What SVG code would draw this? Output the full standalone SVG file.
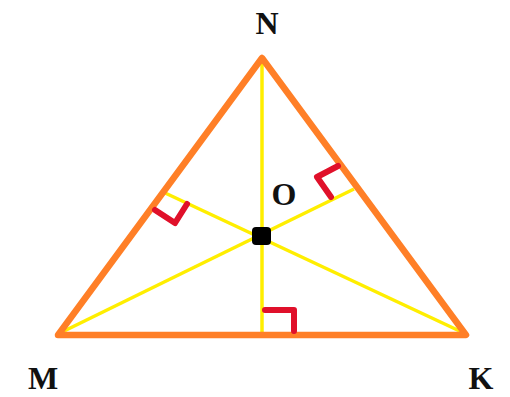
<svg xmlns="http://www.w3.org/2000/svg" width="510" height="397" viewBox="0 0 510 397">
<style>
.tri{fill:none;stroke:#ff7f27;stroke-width:6.5;stroke-linejoin:round}
.yl{stroke:#ffee00;stroke-width:3.5;fill:none}
.ra{fill:none;stroke:#e0102a;stroke-width:6;stroke-linecap:round;stroke-linejoin:round}
.lbl{font-family:"Liberation Serif",serif;font-weight:bold;font-size:32px;fill:#111;text-anchor:middle}
</style>
<rect width="510" height="397" fill="#fff"/>
<g id="connectors">
<line class="yl" x1="262" y1="58" x2="262" y2="335"/>
<line class="yl" x1="58" y1="334" x2="354" y2="189"/>
<line class="yl" x1="466" y1="334" x2="163" y2="192"/>
</g>
<g id="triangle">
<polygon class="tri" points="58,335 262,58 466,335"/>
</g>
<g id="marks">
<polyline class="ra" points="155,210 175,223 187,204"/>
<polyline class="ra" points="338,166 317,177 331,197"/>
<polyline class="ra" points="265,310 294,310 294,331"/>
</g>
<g id="O">
<rect x="252" y="227" width="19" height="18" rx="4" fill="#000"/>
<text class="lbl" x="284" y="205">O</text>
</g>
<g id="N"><text class="lbl" x="267" y="34">N</text></g>
<g id="M"><text class="lbl" x="43" y="389">M</text></g>
<g id="K"><text class="lbl" x="481" y="389">K</text></g>
</svg>
